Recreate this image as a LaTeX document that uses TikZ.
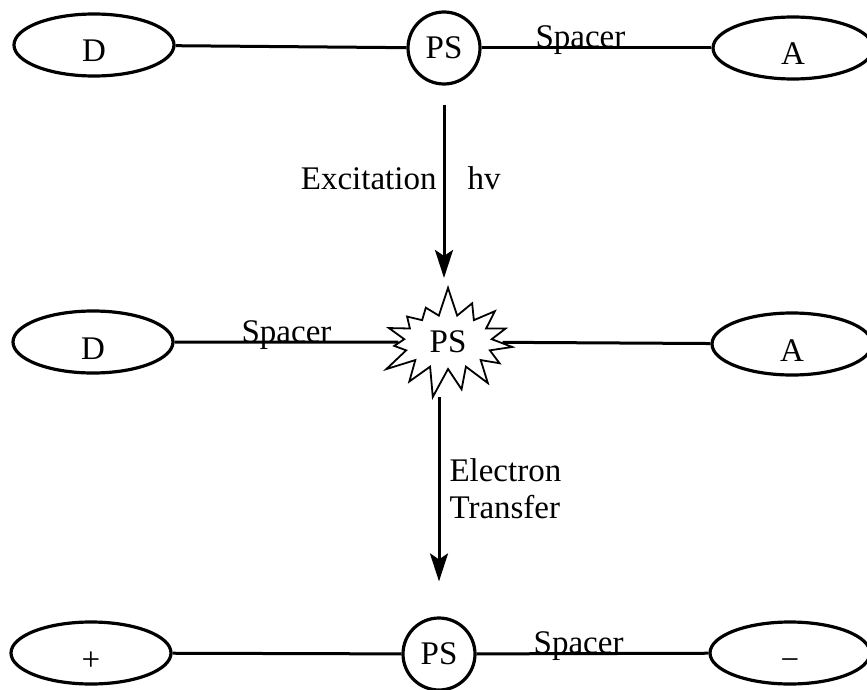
\documentclass[tikz,border=0pt]{standalone}
\usepackage{fontspec}
\setmainfont{Liberation Serif}
\usetikzlibrary{shapes.geometric, shapes.symbols, arrows.meta}

\begin{document}
\begin{tikzpicture}[x=0.5pt, y=-0.5pt,
        every node/.style={font=\fontsize{16.5}{18.5}\selectfont},
        molecule/.style={draw, ellipse, line width=1.6pt, minimum width=80pt, minimum height=31pt, inner sep=0pt, text height=17pt, text depth=0pt},
        ps/.style={draw, circle, line width=1.6pt, minimum size=36pt, inner sep=0pt},
        excited/.style={draw, starburst, line width=0.9pt, minimum width=74pt, minimum height=57pt, starburst points=15, starburst point height=15pt, random starburst=7, inner sep=0pt},
        bond/.style={line width=1.5pt},
        transfer/.style={line width=1.5pt, -{Stealth[length=14pt, width=9pt, inset=3pt]}},
        spacer/.style={anchor=base, inner sep=0pt}]
        \useasboundingbox (0,0) rectangle (867,690);

        % Ground state
        \node[molecule] (d1) at (94,45) {D};
        \node[ps] (ps1) at (444,48) {PS};
        \node[molecule] (a1) at (793,48) {A};
        \draw[bond] (d1) -- (ps1);
        \draw[bond] (ps1) -- node[spacer, pos=0.43] {Spacer} (a1);

        % Excited state
        \node[molecule] (d2) at (93,342) {D};
        \node[excited] (ps2) at (448,342) {PS};
        \node[molecule] (a2) at (792,344) {A};
        \draw[bond] (d2) -- node[spacer] {Spacer} (ps2);
        \draw[bond] (ps2) -- (a2);

        % Charge separated state
        \node[molecule] (plus) at (91,653) {+};
        \node[ps] (ps3) at (439,654) {PS};
        \node[molecule] (minus) at (790,653) {−};
        \draw[bond] (plus) -- (ps3);
        \draw[bond] (ps3) -- node[spacer, pos=0.44] {Spacer} (minus);

        % Arrows
        \draw[transfer, shorten <=9.5pt, shorten >=3.5pt] (ps1.south) --
            node[pos=0.52, anchor=base east, inner sep=0pt, xshift=-3pt] {Excitation}
            node[pos=0.52, anchor=base west, inner sep=0pt, xshift=11pt] {hv} (ps1 |- ps2.north);
        \draw[transfer, shorten <=13pt, shorten >=17.5pt] (ps3 |- ps2.south) --
            node[pos=0.48, anchor=west, align=left, inner sep=0pt, xshift=4.5pt] {Electron\\Transfer} (ps3.north);
    \end{tikzpicture}
\end{document}
